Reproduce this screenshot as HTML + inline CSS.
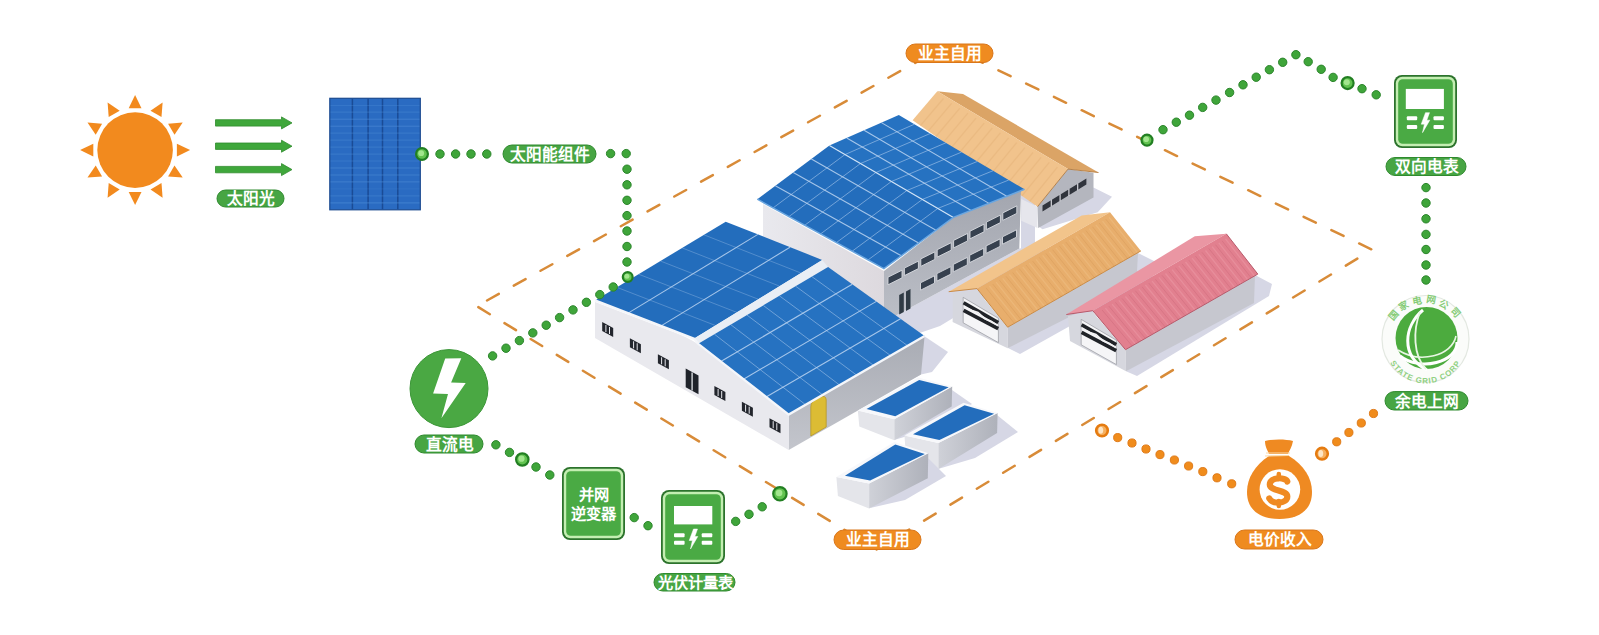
<!DOCTYPE html><html lang="zh-CN"><head><meta charset="utf-8"><style>html,body{margin:0;padding:0;background:#fff;}body{width:1599px;height:635px;overflow:hidden;font-family:"Liberation Sans",sans-serif;}svg{display:block}</style></head><body>
<svg width="1599" height="635" viewBox="0 0 1599 635" font-family="Liberation Sans, sans-serif">
<defs><linearGradient id="gB" x1="0" y1="0" x2="0" y2="1"><stop offset="0" stop-color="#a3a6af"/><stop offset="1" stop-color="#bcbfc7"/></linearGradient><linearGradient id="gL" x1="0" y1="0" x2="1" y2="0"><stop offset="0" stop-color="#e9e9ee"/><stop offset="1" stop-color="#ddd9de"/></linearGradient><linearGradient id="gA" x1="0" y1="0" x2="0" y2="1"><stop offset="0" stop-color="#a9acb4"/><stop offset="1" stop-color="#c3c5cc"/></linearGradient><linearGradient id="gR" x1="0" y1="0" x2="1" y2="0"><stop offset="0" stop-color="#cfd1d8"/><stop offset="1" stop-color="#aeb1ba"/></linearGradient></defs>
<rect width="1599" height="635" fill="#ffffff"/>
<circle cx="135.1" cy="150.1" r="37.8" fill="#f28a1e"/>
<polygon points="135.1,95.1 141.5,108.3 128.7,108.3" fill="#f28a1e" stroke="none" stroke-width="0" />
<polygon points="162.6,102.5 161.5,117.1 150.5,110.7" fill="#f28a1e" stroke="none" stroke-width="0" />
<polygon points="182.7,122.6 174.5,134.7 168.1,123.7" fill="#f28a1e" stroke="none" stroke-width="0" />
<polygon points="190.1,150.1 176.9,156.5 176.9,143.7" fill="#f28a1e" stroke="none" stroke-width="0" />
<polygon points="182.7,177.6 168.1,176.5 174.5,165.5" fill="#f28a1e" stroke="none" stroke-width="0" />
<polygon points="162.6,197.7 150.5,189.5 161.5,183.1" fill="#f28a1e" stroke="none" stroke-width="0" />
<polygon points="135.1,205.1 128.7,191.9 141.5,191.9" fill="#f28a1e" stroke="none" stroke-width="0" />
<polygon points="107.6,197.7 108.7,183.1 119.7,189.5" fill="#f28a1e" stroke="none" stroke-width="0" />
<polygon points="87.5,177.6 95.7,165.5 102.1,176.5" fill="#f28a1e" stroke="none" stroke-width="0" />
<polygon points="80.1,150.1 93.3,143.7 93.3,156.5" fill="#f28a1e" stroke="none" stroke-width="0" />
<polygon points="87.5,122.6 102.1,123.7 95.7,134.7" fill="#f28a1e" stroke="none" stroke-width="0" />
<polygon points="107.6,102.5 119.7,110.7 108.7,117.1" fill="#f28a1e" stroke="none" stroke-width="0" />
<polygon points="215.5,119.7 281.5,119.7 281.5,116.9 292,122.9 281.5,128.9 281.5,126.10000000000001 215.5,126.10000000000001" fill="#3fa73b" stroke="#2e8b2c" stroke-width="0.8" stroke-linejoin="round"/>
<polygon points="215.5,143.0 281.5,143.0 281.5,140.2 292,146.2 281.5,152.2 281.5,149.39999999999998 215.5,149.39999999999998" fill="#3fa73b" stroke="#2e8b2c" stroke-width="0.8" stroke-linejoin="round"/>
<polygon points="215.5,166.4 281.5,166.4 281.5,163.6 292,169.6 281.5,175.6 281.5,172.79999999999998 215.5,172.79999999999998" fill="#3fa73b" stroke="#2e8b2c" stroke-width="0.8" stroke-linejoin="round"/>
<rect x="217" y="190" width="67" height="17" rx="8.5" fill="#47a543" stroke="#2f8a2e" stroke-width="1"/>
<text x="251.3" y="204.2" font-size="15.7" text-anchor="middle" fill="#fff" font-weight="900">太阳光</text>
<rect x="329.8" y="98.3" width="90.5" height="111.5" fill="#2a6bc2" stroke="#1b4a90" stroke-width="1.2"/>
<line x1="352.4" y1="98.8" x2="352.4" y2="209.3" stroke="#1a4b95" stroke-width="1.5"/>
<line x1="368.1" y1="98.8" x2="368.1" y2="209.3" stroke="#1a4b95" stroke-width="1.5"/>
<line x1="382.5" y1="98.8" x2="382.5" y2="209.3" stroke="#1a4b95" stroke-width="1.5"/>
<line x1="397.8" y1="98.8" x2="397.8" y2="209.3" stroke="#1a4b95" stroke-width="1.5"/>
<line x1="330.5" y1="105.3" x2="419.5" y2="105.3" stroke="#4f8fd8" stroke-width="0.6" opacity="0.65"/>
<line x1="330.5" y1="112.2" x2="419.5" y2="112.2" stroke="#4f8fd8" stroke-width="1.2" opacity="0.35"/>
<line x1="330.5" y1="119.2" x2="419.5" y2="119.2" stroke="#4f8fd8" stroke-width="0.9" opacity="0.65"/>
<line x1="330.5" y1="126.2" x2="419.5" y2="126.2" stroke="#4f8fd8" stroke-width="0.9" opacity="0.65"/>
<line x1="330.5" y1="133.1" x2="419.5" y2="133.1" stroke="#4f8fd8" stroke-width="1.2" opacity="0.35"/>
<line x1="330.5" y1="140.1" x2="419.5" y2="140.1" stroke="#4f8fd8" stroke-width="1.2" opacity="0.35"/>
<line x1="330.5" y1="147.1" x2="419.5" y2="147.1" stroke="#4f8fd8" stroke-width="0.9" opacity="0.5"/>
<line x1="330.5" y1="154.1" x2="419.5" y2="154.1" stroke="#4f8fd8" stroke-width="1.2" opacity="0.35"/>
<line x1="330.5" y1="161.0" x2="419.5" y2="161.0" stroke="#4f8fd8" stroke-width="0.6" opacity="0.65"/>
<line x1="330.5" y1="168.0" x2="419.5" y2="168.0" stroke="#4f8fd8" stroke-width="0.9" opacity="0.65"/>
<line x1="330.5" y1="175.0" x2="419.5" y2="175.0" stroke="#4f8fd8" stroke-width="1.2" opacity="0.5"/>
<line x1="330.5" y1="181.9" x2="419.5" y2="181.9" stroke="#4f8fd8" stroke-width="0.9" opacity="0.65"/>
<line x1="330.5" y1="188.9" x2="419.5" y2="188.9" stroke="#4f8fd8" stroke-width="0.6" opacity="0.35"/>
<line x1="330.5" y1="195.9" x2="419.5" y2="195.9" stroke="#4f8fd8" stroke-width="1.2" opacity="0.35"/>
<line x1="330.5" y1="202.8" x2="419.5" y2="202.8" stroke="#4f8fd8" stroke-width="1.2" opacity="0.5"/>
<line x1="476.7" y1="306.2" x2="946.6" y2="45.4" stroke="#d88b38" stroke-width="2.5" stroke-dasharray="13.5 17.1" stroke-dashoffset="-11.8" stroke-linecap="round"/>
<line x1="946.6" y1="45.4" x2="1372.1" y2="249.7" stroke="#d88b38" stroke-width="2.5" stroke-dasharray="13.5 17.28" stroke-dashoffset="-26.7" stroke-linecap="round"/>
<line x1="476.7" y1="306.2" x2="876.6" y2="549.3" stroke="#d88b38" stroke-width="2.5" stroke-dasharray="13.5 17.1" stroke-dashoffset="-1.9" stroke-linecap="round"/>
<line x1="876.6" y1="549.3" x2="1372.1" y2="249.7" stroke="#d88b38" stroke-width="2.5" stroke-dasharray="13.5 17.3" stroke-dashoffset="-24.7" stroke-linecap="round"/>
<polygon points="1138.0,253.0 1156.0,262.0 1152.0,280.0 1020.0,354.0 1008.0,348.0" fill="#d6d7e5" stroke="none" stroke-width="0" />
<polygon points="1255.0,275.0 1272.0,284.0 1269.0,296.0 1137.0,376.0 1126.0,371.2" fill="#d6d7e5" stroke="none" stroke-width="0" />
<polygon points="924.0,336.0 948.0,352.0 932.0,372.0 921.0,374.5 900.0,386.0" fill="#d6d7e5" stroke="none" stroke-width="0" />
<polygon points="1021.0,192.0 1035.0,200.0 1035.0,250.0 1021.0,250.0" fill="#d6d7e5" stroke="none" stroke-width="0" />
<polygon points="1093.5,187.5 1112.0,196.7 1097.7,212.3 1042.5,229.3 1038.0,226.0" fill="#d6d7e5" stroke="none" stroke-width="0" />
<polygon points="937.3,91.3 963.0,94.0 1098.5,172.5 1068.0,169.1" fill="#dba466" stroke="none" stroke-width="0" />
<polygon points="912.6,120.3 937.3,91.3 1068.0,169.1 1037.5,206.7" fill="#f1c38c" stroke="none" stroke-width="0" />
<line x1="943.5" y1="98.5" x2="920.4" y2="125.7" stroke="#d39a5c" stroke-width="1.3" opacity="0.2"/>
<line x1="951.6" y1="103.4" x2="928.2" y2="131.1" stroke="#d39a5c" stroke-width="1.3" opacity="0.2"/>
<line x1="959.7" y1="108.3" x2="936.0" y2="136.5" stroke="#d39a5c" stroke-width="1.3" opacity="0.2"/>
<line x1="967.9" y1="113.2" x2="943.8" y2="141.9" stroke="#d39a5c" stroke-width="1.3" opacity="0.2"/>
<line x1="976.0" y1="118.1" x2="951.6" y2="147.3" stroke="#d39a5c" stroke-width="1.3" opacity="0.2"/>
<line x1="984.2" y1="123.1" x2="959.4" y2="152.7" stroke="#d39a5c" stroke-width="1.3" opacity="0.2"/>
<line x1="992.3" y1="128.0" x2="967.2" y2="158.1" stroke="#d39a5c" stroke-width="1.3" opacity="0.2"/>
<line x1="1000.4" y1="132.9" x2="975.0" y2="163.5" stroke="#d39a5c" stroke-width="1.3" opacity="0.2"/>
<line x1="1008.6" y1="137.8" x2="982.9" y2="168.9" stroke="#d39a5c" stroke-width="1.3" opacity="0.2"/>
<line x1="1016.7" y1="142.7" x2="990.7" y2="174.3" stroke="#d39a5c" stroke-width="1.3" opacity="0.2"/>
<line x1="1024.9" y1="147.6" x2="998.5" y2="179.7" stroke="#d39a5c" stroke-width="1.3" opacity="0.2"/>
<line x1="1033.0" y1="152.5" x2="1006.3" y2="185.1" stroke="#d39a5c" stroke-width="1.3" opacity="0.2"/>
<line x1="1041.1" y1="157.4" x2="1014.1" y2="190.5" stroke="#d39a5c" stroke-width="1.3" opacity="0.2"/>
<line x1="1049.3" y1="162.3" x2="1021.9" y2="195.9" stroke="#d39a5c" stroke-width="1.3" opacity="0.2"/>
<line x1="1057.4" y1="167.2" x2="1029.7" y2="201.3" stroke="#d39a5c" stroke-width="1.3" opacity="0.2"/>
<polygon points="1021.2,198.9 1037.5,206.7 1037.5,228.0 1021.2,220.8" fill="#e6e6ec" stroke="none" stroke-width="0" />
<polygon points="1037.5,206.7 1068.0,169.1 1093.5,172.7 1093.5,197.5 1038.2,228.0" fill="#b4b6be" stroke="none" stroke-width="0" />
<polygon points="1042.5,205.5 1086.4,178.6 1086.4,184.6 1042.5,211.5" fill="#30343c" stroke="none" stroke-width="0" />
<line x1="1051.3" y1="199.6" x2="1051.3" y2="206.6" stroke="#d7d8de" stroke-width="1.2"/>
<line x1="1060.1" y1="194.2" x2="1060.1" y2="201.2" stroke="#d7d8de" stroke-width="1.2"/>
<line x1="1068.9" y1="188.9" x2="1068.9" y2="195.9" stroke="#d7d8de" stroke-width="1.2"/>
<line x1="1077.7" y1="183.5" x2="1077.7" y2="190.5" stroke="#d7d8de" stroke-width="1.2"/>
<polyline points="1037.5,206.7 1068,169.1 1098.5,172.5" fill="none" stroke="#b27a40" stroke-width="0.9"/>
<polygon points="884.0,322.0 1019.3,248.5 1045.0,246.0 1045.0,262.0 940.0,326.0 905.0,338.0" fill="#d6d7e5" stroke="none" stroke-width="0" />
<polygon points="763.0,204.0 884.0,271.0 884.0,322.0 763.0,245.0" fill="url(#gL)" stroke="none" stroke-width="0" />
<polygon points="884.0,271.0 953.4,217.4 1021.0,190.5 1019.3,248.5 884.0,322.0" fill="url(#gB)" stroke="none" stroke-width="0" />
<polygon points="888.0,277.2 902.0,270.2 902.0,277.8 888.0,284.8" fill="#37414f" stroke="#d7d9df" stroke-width="0.9" />
<polygon points="904.4,268.1 918.4,261.1 918.4,268.6 904.4,275.6" fill="#37414f" stroke="#d7d9df" stroke-width="0.9" />
<polygon points="920.8,258.9 934.8,251.9 934.8,259.4 920.8,266.4" fill="#37414f" stroke="#d7d9df" stroke-width="0.9" />
<polygon points="937.2,249.7 951.2,242.7 951.2,250.2 937.2,257.1" fill="#37414f" stroke="#d7d9df" stroke-width="0.9" />
<polygon points="953.6,240.4 967.6,233.4 967.6,240.9 953.6,247.9" fill="#37414f" stroke="#d7d9df" stroke-width="0.9" />
<polygon points="970.0,231.2 984.0,224.2 984.0,231.8 970.0,238.8" fill="#37414f" stroke="#d7d9df" stroke-width="0.9" />
<polygon points="986.4,222.1 1000.4,215.1 1000.4,222.6 986.4,229.6" fill="#37414f" stroke="#d7d9df" stroke-width="0.9" />
<polygon points="1002.8,212.9 1016.8,205.9 1016.8,213.4 1002.8,220.4" fill="#37414f" stroke="#d7d9df" stroke-width="0.9" />
<polygon points="920.5,282.8 934.5,275.8 934.5,283.2 920.5,290.2" fill="#37414f" stroke="#d7d9df" stroke-width="0.9" />
<polygon points="936.9,273.6 950.9,266.6 950.9,274.1 936.9,281.1" fill="#37414f" stroke="#d7d9df" stroke-width="0.9" />
<polygon points="953.3,264.4 967.3,257.4 967.3,264.9 953.3,271.9" fill="#37414f" stroke="#d7d9df" stroke-width="0.9" />
<polygon points="969.7,255.2 983.7,248.2 983.7,255.6 969.7,262.6" fill="#37414f" stroke="#d7d9df" stroke-width="0.9" />
<polygon points="986.1,245.9 1000.1,238.9 1000.1,246.4 986.1,253.4" fill="#37414f" stroke="#d7d9df" stroke-width="0.9" />
<polygon points="1002.5,236.8 1016.5,229.8 1016.5,237.2 1002.5,244.2" fill="#37414f" stroke="#d7d9df" stroke-width="0.9" />
<polygon points="899.2,295.0 903.8,292.5 903.8,312.0 899.2,314.5" fill="#2f3a44" stroke="none" stroke-width="0" />
<polygon points="906.0,291.5 910.5,289.0 910.5,308.5 906.0,311.0" fill="#2f3a44" stroke="none" stroke-width="0" />
<polygon points="757.3,199.2 829.4,145.6 953.4,217.4 883.9,268.6" fill="#236dbc" stroke="none" stroke-width="0" />
<polygon points="829.4,145.6 898.8,114.9 1024.5,189.3 953.4,217.4" fill="#2672c1" stroke="none" stroke-width="0" />
<line x1="775.3" y1="185.8" x2="901.3" y2="255.8" stroke="#bcd5f2" stroke-width="1.1" opacity="0.85"/>
<line x1="793.3" y1="172.4" x2="918.6" y2="243.0" stroke="#bcd5f2" stroke-width="1.1" opacity="0.85"/>
<line x1="811.4" y1="159.0" x2="936.0" y2="230.2" stroke="#bcd5f2" stroke-width="1.1" opacity="0.85"/>
<line x1="773.1" y1="207.9" x2="844.9" y2="154.6" stroke="#bcd5f2" stroke-width="0.8800000000000001" opacity="0.6"/>
<line x1="788.9" y1="216.6" x2="860.4" y2="163.6" stroke="#bcd5f2" stroke-width="0.8800000000000001" opacity="0.6"/>
<line x1="804.8" y1="225.2" x2="875.9" y2="172.5" stroke="#bcd5f2" stroke-width="0.8800000000000001" opacity="0.6"/>
<line x1="820.6" y1="233.9" x2="891.4" y2="181.5" stroke="#bcd5f2" stroke-width="0.8800000000000001" opacity="0.6"/>
<line x1="836.4" y1="242.6" x2="906.9" y2="190.5" stroke="#bcd5f2" stroke-width="0.8800000000000001" opacity="0.6"/>
<line x1="852.2" y1="251.2" x2="922.4" y2="199.4" stroke="#bcd5f2" stroke-width="0.8800000000000001" opacity="0.6"/>
<line x1="868.1" y1="259.9" x2="937.9" y2="208.4" stroke="#bcd5f2" stroke-width="0.8800000000000001" opacity="0.6"/>
<line x1="846.8" y1="137.9" x2="971.2" y2="210.4" stroke="#bcd5f2" stroke-width="1.1" opacity="0.85"/>
<line x1="864.1" y1="130.2" x2="989.0" y2="203.4" stroke="#bcd5f2" stroke-width="1.1" opacity="0.85"/>
<line x1="881.4" y1="122.6" x2="1006.7" y2="196.3" stroke="#bcd5f2" stroke-width="1.1" opacity="0.85"/>
<line x1="844.9" y1="154.6" x2="914.5" y2="124.2" stroke="#bcd5f2" stroke-width="0.8800000000000001" opacity="0.6"/>
<line x1="860.4" y1="163.6" x2="930.2" y2="133.5" stroke="#bcd5f2" stroke-width="0.8800000000000001" opacity="0.6"/>
<line x1="875.9" y1="172.5" x2="945.9" y2="142.8" stroke="#bcd5f2" stroke-width="0.8800000000000001" opacity="0.6"/>
<line x1="891.4" y1="181.5" x2="961.6" y2="152.1" stroke="#bcd5f2" stroke-width="0.8800000000000001" opacity="0.6"/>
<line x1="906.9" y1="190.5" x2="977.4" y2="161.4" stroke="#bcd5f2" stroke-width="0.8800000000000001" opacity="0.6"/>
<line x1="922.4" y1="199.4" x2="993.1" y2="170.7" stroke="#bcd5f2" stroke-width="0.8800000000000001" opacity="0.6"/>
<line x1="937.9" y1="208.4" x2="1008.8" y2="180.0" stroke="#bcd5f2" stroke-width="0.8800000000000001" opacity="0.6"/>
<line x1="829.4" y1="145.6" x2="953.4" y2="217.4" stroke="#cfe2f6" stroke-width="1.2"/>
<polyline points="757.3,199.2 883.9,268.6 953.4,217.4 1024.5,189.3" fill="none" stroke="#6aa6e0" stroke-width="1.5"/>
<polygon points="788.7,414.6 924.6,335.9 921.0,374.5 788.7,450.0" fill="url(#gA)" stroke="none" stroke-width="0" />
<path d="M595,302 L676,333 Q694,340 706,350 L788.7,414.6 L788.7,450 L595,338 Z" fill="#e9e9ee"/>
<path d="M810.8,407 Q810.8,401 818,398 Q826.2,394 826.2,400 L826.2,427 L810.8,436 Z" fill="#dcbc34" stroke="#b8982a" stroke-width="0.8"/>
<polygon points="595.0,300.4 725.7,221.7 822.2,259.9 694.2,338.6" fill="#236dbc" stroke="none" stroke-width="0" />
<polygon points="694.2,338.6 822.2,259.9 828.1,267.0 698.2,343.8" fill="#e9eef5" stroke="none" stroke-width="0" />
<polygon points="698.2,343.8 828.1,267.0 924.6,335.9 788.7,414.6" fill="#2672c1" stroke="none" stroke-width="0" />
<line x1="628.1" y1="313.1" x2="757.9" y2="234.4" stroke="#bcd5f2" stroke-width="1.1" opacity="0.85"/>
<line x1="661.1" y1="325.9" x2="790.0" y2="247.2" stroke="#bcd5f2" stroke-width="1.1" opacity="0.85"/>
<line x1="616.8" y1="287.3" x2="715.5" y2="325.5" stroke="#bcd5f2" stroke-width="0.8800000000000001" opacity="0.35"/>
<line x1="638.6" y1="274.2" x2="736.9" y2="312.4" stroke="#bcd5f2" stroke-width="0.8800000000000001" opacity="0.35"/>
<line x1="660.4" y1="261.0" x2="758.2" y2="299.2" stroke="#bcd5f2" stroke-width="0.8800000000000001" opacity="0.35"/>
<line x1="682.1" y1="247.9" x2="779.5" y2="286.1" stroke="#bcd5f2" stroke-width="0.8800000000000001" opacity="0.35"/>
<line x1="703.9" y1="234.8" x2="800.9" y2="273.0" stroke="#bcd5f2" stroke-width="0.8800000000000001" opacity="0.35"/>
<line x1="720.8" y1="361.5" x2="852.2" y2="284.2" stroke="#bcd5f2" stroke-width="1.1" opacity="0.85"/>
<line x1="743.5" y1="379.2" x2="876.4" y2="301.4" stroke="#bcd5f2" stroke-width="1.1" opacity="0.85"/>
<line x1="766.1" y1="396.9" x2="900.5" y2="318.7" stroke="#bcd5f2" stroke-width="1.1" opacity="0.85"/>
<line x1="714.4" y1="334.2" x2="805.7" y2="404.8" stroke="#bcd5f2" stroke-width="0.8800000000000001" opacity="0.55"/>
<line x1="730.7" y1="324.6" x2="822.7" y2="394.9" stroke="#bcd5f2" stroke-width="0.8800000000000001" opacity="0.55"/>
<line x1="746.9" y1="315.0" x2="839.7" y2="385.1" stroke="#bcd5f2" stroke-width="0.8800000000000001" opacity="0.55"/>
<line x1="763.2" y1="305.4" x2="856.7" y2="375.2" stroke="#bcd5f2" stroke-width="0.8800000000000001" opacity="0.55"/>
<line x1="779.4" y1="295.8" x2="873.6" y2="365.4" stroke="#bcd5f2" stroke-width="0.8800000000000001" opacity="0.55"/>
<line x1="795.6" y1="286.2" x2="890.6" y2="355.6" stroke="#bcd5f2" stroke-width="0.8800000000000001" opacity="0.55"/>
<line x1="811.9" y1="276.6" x2="907.6" y2="345.7" stroke="#bcd5f2" stroke-width="0.8800000000000001" opacity="0.55"/>
<polyline points="595,300.4 694.2,338.6 698.2,343.8 788.7,414.6 924.6,335.9" fill="none" stroke="#f4f6fa" stroke-width="2.3"/>
<polygon points="602.2,322.0 613.2,328.0 613.2,337.0 602.2,331.0" fill="#23262d" stroke="none" stroke-width="0" />
<line x1="605.9" y1="325.0" x2="605.9" y2="332.0" stroke="#e8e9ee" stroke-width="1"/>
<line x1="609.5" y1="327.0" x2="609.5" y2="334.0" stroke="#e8e9ee" stroke-width="1"/>
<polygon points="629.9,338.3 640.9,344.3 640.9,353.3 629.9,347.3" fill="#23262d" stroke="none" stroke-width="0" />
<line x1="633.6" y1="341.3" x2="633.6" y2="348.3" stroke="#e8e9ee" stroke-width="1"/>
<line x1="637.2" y1="343.3" x2="637.2" y2="350.3" stroke="#e8e9ee" stroke-width="1"/>
<polygon points="657.9,354.3 668.9,360.3 668.9,369.3 657.9,363.3" fill="#23262d" stroke="none" stroke-width="0" />
<line x1="661.6" y1="357.3" x2="661.6" y2="364.3" stroke="#e8e9ee" stroke-width="1"/>
<line x1="665.2" y1="359.3" x2="665.2" y2="366.3" stroke="#e8e9ee" stroke-width="1"/>
<polygon points="714.4,386.0 725.4,392.0 725.4,401.0 714.4,395.0" fill="#23262d" stroke="none" stroke-width="0" />
<line x1="718.1" y1="389.0" x2="718.1" y2="396.0" stroke="#e8e9ee" stroke-width="1"/>
<line x1="721.7" y1="391.0" x2="721.7" y2="398.0" stroke="#e8e9ee" stroke-width="1"/>
<polygon points="741.9,401.7 752.9,407.7 752.9,416.7 741.9,410.7" fill="#23262d" stroke="none" stroke-width="0" />
<line x1="745.6" y1="404.7" x2="745.6" y2="411.7" stroke="#e8e9ee" stroke-width="1"/>
<line x1="749.2" y1="406.7" x2="749.2" y2="413.7" stroke="#e8e9ee" stroke-width="1"/>
<polygon points="769.5,418.2 780.5,424.2 780.5,433.2 769.5,427.2" fill="#23262d" stroke="none" stroke-width="0" />
<line x1="773.2" y1="421.2" x2="773.2" y2="428.2" stroke="#e8e9ee" stroke-width="1"/>
<line x1="776.8" y1="423.2" x2="776.8" y2="430.2" stroke="#e8e9ee" stroke-width="1"/>
<polygon points="685.7,368.5 698.5,375.5 698.5,394.3 685.7,387.3" fill="#1f232a" stroke="none" stroke-width="0" />
<line x1="692.1" y1="372.5" x2="692.1" y2="390.5" stroke="#d8dbe0" stroke-width="1.4"/>
<polygon points="952.6,293.3 977.0,290.0 1007.7,327.2 1007.7,348.2 952.6,322.0" fill="#d6d7de" stroke="none" stroke-width="0" />
<polygon points="1007.7,327.2 1138.0,252.5 1136.4,283.0 1007.7,348.2" fill="#c6c7cf" stroke="none" stroke-width="0" />
<polygon points="963.2,297.4 998.4,318.3 998.4,342.6 963.2,322.8" fill="#f5f5f7" stroke="#8a8c92" stroke-width="0.6" />
<line x1="963.6" y1="302.8" x2="998.2" y2="322.6" stroke="#202328" stroke-width="3.6"/>
<line x1="963.6" y1="310.4" x2="998.2" y2="328.6" stroke="#202328" stroke-width="3.6"/>
<polyline points="963.6,306.6 972,310.5 978,312.5 985,318.8 991,321.3 998.2,325.6" fill="none" stroke="#f2f2f4" stroke-width="1.6"/>
<polygon points="948.7,291.7 977.0,288.6 1110.0,212.3 1081.7,215.4" fill="#f2c48b" stroke="none" stroke-width="0" />
<polygon points="977.0,288.6 1007.7,327.2 1140.9,250.9 1110.0,212.3" fill="#e8ae6c" stroke="none" stroke-width="0" />
<line x1="986.1" y1="287.9" x2="1014.4" y2="323.4" stroke="#c98a4a" stroke-width="1.0" opacity="0.25"/>
<line x1="989.4" y1="286.0" x2="1017.7" y2="321.5" stroke="#f5cc96" stroke-width="1.3" opacity="0.3"/>
<line x1="992.8" y1="284.1" x2="1021.0" y2="319.6" stroke="#c98a4a" stroke-width="1.0" opacity="0.25"/>
<line x1="996.1" y1="282.2" x2="1024.4" y2="317.7" stroke="#f5cc96" stroke-width="1.3" opacity="0.3"/>
<line x1="999.4" y1="280.2" x2="1027.7" y2="315.8" stroke="#c98a4a" stroke-width="1.0" opacity="0.25"/>
<line x1="1002.7" y1="278.3" x2="1031.0" y2="313.8" stroke="#f5cc96" stroke-width="1.3" opacity="0.3"/>
<line x1="1006.1" y1="276.4" x2="1034.3" y2="311.9" stroke="#c98a4a" stroke-width="1.0" opacity="0.25"/>
<line x1="1009.4" y1="274.5" x2="1037.7" y2="310.0" stroke="#f5cc96" stroke-width="1.3" opacity="0.3"/>
<line x1="1012.7" y1="272.6" x2="1041.0" y2="308.1" stroke="#c98a4a" stroke-width="1.0" opacity="0.25"/>
<line x1="1016.0" y1="270.7" x2="1044.3" y2="306.2" stroke="#f5cc96" stroke-width="1.3" opacity="0.3"/>
<line x1="1019.4" y1="268.8" x2="1047.7" y2="304.3" stroke="#c98a4a" stroke-width="1.0" opacity="0.25"/>
<line x1="1022.7" y1="266.9" x2="1051.0" y2="302.4" stroke="#f5cc96" stroke-width="1.3" opacity="0.3"/>
<line x1="1026.0" y1="265.0" x2="1054.3" y2="300.5" stroke="#c98a4a" stroke-width="1.0" opacity="0.25"/>
<line x1="1029.3" y1="263.1" x2="1057.7" y2="298.6" stroke="#f5cc96" stroke-width="1.3" opacity="0.3"/>
<line x1="1032.7" y1="261.2" x2="1061.0" y2="296.7" stroke="#c98a4a" stroke-width="1.0" opacity="0.25"/>
<line x1="1036.0" y1="259.3" x2="1064.3" y2="294.8" stroke="#f5cc96" stroke-width="1.3" opacity="0.3"/>
<line x1="1039.3" y1="257.4" x2="1067.6" y2="292.9" stroke="#c98a4a" stroke-width="1.0" opacity="0.25"/>
<line x1="1042.6" y1="255.4" x2="1071.0" y2="291.0" stroke="#f5cc96" stroke-width="1.3" opacity="0.3"/>
<line x1="1046.0" y1="253.5" x2="1074.3" y2="289.1" stroke="#c98a4a" stroke-width="1.0" opacity="0.25"/>
<line x1="1049.3" y1="251.6" x2="1077.6" y2="287.1" stroke="#f5cc96" stroke-width="1.3" opacity="0.3"/>
<line x1="1052.6" y1="249.7" x2="1081.0" y2="285.2" stroke="#c98a4a" stroke-width="1.0" opacity="0.25"/>
<line x1="1055.9" y1="247.8" x2="1084.3" y2="283.3" stroke="#f5cc96" stroke-width="1.3" opacity="0.3"/>
<line x1="1059.3" y1="245.9" x2="1087.6" y2="281.4" stroke="#c98a4a" stroke-width="1.0" opacity="0.25"/>
<line x1="1062.6" y1="244.0" x2="1091.0" y2="279.5" stroke="#f5cc96" stroke-width="1.3" opacity="0.3"/>
<line x1="1065.9" y1="242.1" x2="1094.3" y2="277.6" stroke="#c98a4a" stroke-width="1.0" opacity="0.25"/>
<line x1="1069.2" y1="240.2" x2="1097.6" y2="275.7" stroke="#f5cc96" stroke-width="1.3" opacity="0.3"/>
<line x1="1072.6" y1="238.3" x2="1100.9" y2="273.8" stroke="#c98a4a" stroke-width="1.0" opacity="0.25"/>
<line x1="1075.9" y1="236.4" x2="1104.3" y2="271.9" stroke="#f5cc96" stroke-width="1.3" opacity="0.3"/>
<line x1="1079.2" y1="234.5" x2="1107.6" y2="270.0" stroke="#c98a4a" stroke-width="1.0" opacity="0.25"/>
<line x1="1082.5" y1="232.6" x2="1110.9" y2="268.1" stroke="#f5cc96" stroke-width="1.3" opacity="0.3"/>
<line x1="1085.9" y1="230.6" x2="1114.3" y2="266.2" stroke="#c98a4a" stroke-width="1.0" opacity="0.25"/>
<line x1="1089.2" y1="228.7" x2="1117.6" y2="264.3" stroke="#f5cc96" stroke-width="1.3" opacity="0.3"/>
<line x1="1092.5" y1="226.8" x2="1120.9" y2="262.3" stroke="#c98a4a" stroke-width="1.0" opacity="0.25"/>
<line x1="1095.8" y1="224.9" x2="1124.2" y2="260.4" stroke="#f5cc96" stroke-width="1.3" opacity="0.3"/>
<line x1="1099.2" y1="223.0" x2="1127.6" y2="258.5" stroke="#c98a4a" stroke-width="1.0" opacity="0.25"/>
<line x1="1102.5" y1="221.1" x2="1130.9" y2="256.6" stroke="#f5cc96" stroke-width="1.3" opacity="0.3"/>
<line x1="1105.8" y1="219.2" x2="1134.2" y2="254.7" stroke="#c98a4a" stroke-width="1.0" opacity="0.25"/>
<line x1="1109.1" y1="217.3" x2="1137.6" y2="252.8" stroke="#f5cc96" stroke-width="1.3" opacity="0.3"/>
<polyline points="948.7,291.7 977,288.6 1007.7,327.2 1140.9,250.9" fill="none" stroke="#c98b47" stroke-width="1"/>
<polygon points="1068.0,316.0 1092.8,312.0 1125.5,349.7 1126.0,371.2 1070.0,341.0" fill="#d6d7de" stroke="none" stroke-width="0" />
<polygon points="1125.5,349.7 1255.0,275.0 1254.0,303.0 1126.0,371.2" fill="#c6c7cf" stroke="none" stroke-width="0" />
<polygon points="1081.2,319.4 1116.4,340.3 1116.4,364.6 1081.2,344.8" fill="#f5f5f7" stroke="#8a8c92" stroke-width="0.6" />
<line x1="1081.6" y1="324.8" x2="1116.2" y2="344.6" stroke="#202328" stroke-width="3.6"/>
<line x1="1081.6" y1="332.4" x2="1116.2" y2="350.6" stroke="#202328" stroke-width="3.6"/>
<polyline points="1081.6,328.6 1090,332.5 1096,334.5 1103,340.8 1109,343.3 1116.2,347.6" fill="none" stroke="#f2f2f4" stroke-width="1.6"/>
<polygon points="1066.3,314.5 1092.8,310.7 1226.3,233.8 1194.8,236.3" fill="#ea96a3" stroke="none" stroke-width="0" />
<polygon points="1092.8,310.7 1125.5,349.7 1257.8,274.1 1226.3,233.8" fill="#e2808f" stroke="none" stroke-width="0" />
<line x1="1102.1" y1="310.0" x2="1132.1" y2="345.9" stroke="#c25e70" stroke-width="1.0" opacity="0.3"/>
<line x1="1105.4" y1="308.1" x2="1135.4" y2="344.0" stroke="#f2a7b2" stroke-width="1.3" opacity="0.36"/>
<line x1="1108.8" y1="306.1" x2="1138.7" y2="342.1" stroke="#c25e70" stroke-width="1.0" opacity="0.3"/>
<line x1="1112.1" y1="304.2" x2="1142.0" y2="340.2" stroke="#f2a7b2" stroke-width="1.3" opacity="0.36"/>
<line x1="1115.4" y1="302.3" x2="1145.3" y2="338.4" stroke="#c25e70" stroke-width="1.0" opacity="0.3"/>
<line x1="1118.8" y1="300.4" x2="1148.7" y2="336.5" stroke="#f2a7b2" stroke-width="1.3" opacity="0.36"/>
<line x1="1122.1" y1="298.5" x2="1152.0" y2="334.6" stroke="#c25e70" stroke-width="1.0" opacity="0.3"/>
<line x1="1125.4" y1="296.5" x2="1155.3" y2="332.7" stroke="#f2a7b2" stroke-width="1.3" opacity="0.36"/>
<line x1="1128.8" y1="294.6" x2="1158.6" y2="330.8" stroke="#c25e70" stroke-width="1.0" opacity="0.3"/>
<line x1="1132.1" y1="292.7" x2="1161.9" y2="328.9" stroke="#f2a7b2" stroke-width="1.3" opacity="0.36"/>
<line x1="1135.4" y1="290.8" x2="1165.2" y2="327.0" stroke="#c25e70" stroke-width="1.0" opacity="0.3"/>
<line x1="1138.8" y1="288.9" x2="1168.5" y2="325.1" stroke="#f2a7b2" stroke-width="1.3" opacity="0.36"/>
<line x1="1142.1" y1="286.9" x2="1171.8" y2="323.2" stroke="#c25e70" stroke-width="1.0" opacity="0.3"/>
<line x1="1145.4" y1="285.0" x2="1175.1" y2="321.4" stroke="#f2a7b2" stroke-width="1.3" opacity="0.36"/>
<line x1="1148.8" y1="283.1" x2="1178.4" y2="319.5" stroke="#c25e70" stroke-width="1.0" opacity="0.3"/>
<line x1="1152.1" y1="281.2" x2="1181.7" y2="317.6" stroke="#f2a7b2" stroke-width="1.3" opacity="0.36"/>
<line x1="1155.4" y1="279.3" x2="1185.0" y2="315.7" stroke="#c25e70" stroke-width="1.0" opacity="0.3"/>
<line x1="1158.8" y1="277.3" x2="1188.3" y2="313.8" stroke="#f2a7b2" stroke-width="1.3" opacity="0.36"/>
<line x1="1162.1" y1="275.4" x2="1191.7" y2="311.9" stroke="#c25e70" stroke-width="1.0" opacity="0.3"/>
<line x1="1165.5" y1="273.5" x2="1195.0" y2="310.0" stroke="#f2a7b2" stroke-width="1.3" opacity="0.36"/>
<line x1="1168.8" y1="271.6" x2="1198.3" y2="308.1" stroke="#c25e70" stroke-width="1.0" opacity="0.3"/>
<line x1="1172.1" y1="269.7" x2="1201.6" y2="306.2" stroke="#f2a7b2" stroke-width="1.3" opacity="0.36"/>
<line x1="1175.5" y1="267.7" x2="1204.9" y2="304.3" stroke="#c25e70" stroke-width="1.0" opacity="0.3"/>
<line x1="1178.8" y1="265.8" x2="1208.2" y2="302.4" stroke="#f2a7b2" stroke-width="1.3" opacity="0.36"/>
<line x1="1182.1" y1="263.9" x2="1211.5" y2="300.6" stroke="#c25e70" stroke-width="1.0" opacity="0.3"/>
<line x1="1185.5" y1="262.0" x2="1214.8" y2="298.7" stroke="#f2a7b2" stroke-width="1.3" opacity="0.36"/>
<line x1="1188.8" y1="260.1" x2="1218.1" y2="296.8" stroke="#c25e70" stroke-width="1.0" opacity="0.3"/>
<line x1="1192.1" y1="258.1" x2="1221.4" y2="294.9" stroke="#f2a7b2" stroke-width="1.3" opacity="0.36"/>
<line x1="1195.5" y1="256.2" x2="1224.7" y2="293.0" stroke="#c25e70" stroke-width="1.0" opacity="0.3"/>
<line x1="1198.8" y1="254.3" x2="1228.0" y2="291.1" stroke="#f2a7b2" stroke-width="1.3" opacity="0.36"/>
<line x1="1202.1" y1="252.4" x2="1231.3" y2="289.2" stroke="#c25e70" stroke-width="1.0" opacity="0.3"/>
<line x1="1205.5" y1="250.5" x2="1234.6" y2="287.3" stroke="#f2a7b2" stroke-width="1.3" opacity="0.36"/>
<line x1="1208.8" y1="248.5" x2="1238.0" y2="285.4" stroke="#c25e70" stroke-width="1.0" opacity="0.3"/>
<line x1="1212.1" y1="246.6" x2="1241.3" y2="283.6" stroke="#f2a7b2" stroke-width="1.3" opacity="0.36"/>
<line x1="1215.5" y1="244.7" x2="1244.6" y2="281.7" stroke="#c25e70" stroke-width="1.0" opacity="0.3"/>
<line x1="1218.8" y1="242.8" x2="1247.9" y2="279.8" stroke="#f2a7b2" stroke-width="1.3" opacity="0.36"/>
<line x1="1222.1" y1="240.9" x2="1251.2" y2="277.9" stroke="#c25e70" stroke-width="1.0" opacity="0.3"/>
<line x1="1225.5" y1="238.9" x2="1254.5" y2="276.0" stroke="#f2a7b2" stroke-width="1.3" opacity="0.36"/>
<polyline points="1066.3,314.5 1092.8,310.7 1125.5,349.7 1257.8,274.1 1226.3,233.8" fill="none" stroke="#b75a6b" stroke-width="1"/>
<polygon points="952.0,390.0 972.0,404.0 935.0,428.0 894.0,440.0" fill="#d6d7e5" stroke="none" stroke-width="0" />
<polygon points="857.8,410.4 894.3,419.2 894.3,440.2 859.3,426.4" fill="#e4e5ea" stroke="none" stroke-width="0" />
<polygon points="894.3,419.2 952.2,386.4 951.7,406.4 894.3,440.2" fill="url(#gR)" stroke="none" stroke-width="0" />
<polygon points="857.8,410.4 918.2,377.6 952.2,386.4 894.3,419.2" fill="#f7f8fb" stroke="none" stroke-width="0" />
<polygon points="866.5,409.0 919.2,380.1 948.7,387.2 895.3,416.2" fill="#236dbc" stroke="none" stroke-width="0" />
<polygon points="997.0,415.0 1018.0,432.0 975.0,458.0 938.0,469.0" fill="#d6d7e5" stroke="none" stroke-width="0" />
<polygon points="904.4,435.6 938.4,443.1 938.4,469.1 905.9,454.6" fill="#e4e5ea" stroke="none" stroke-width="0" />
<polygon points="938.4,443.1 997.6,412.9 997.1,432.9 938.4,469.1" fill="url(#gR)" stroke="none" stroke-width="0" />
<polygon points="904.4,435.6 963.6,402.8 997.6,412.9 938.4,443.1" fill="#f7f8fb" stroke="none" stroke-width="0" />
<polygon points="913.0,434.2 964.6,405.3 994.1,413.7 939.4,440.1" fill="#236dbc" stroke="none" stroke-width="0" />
<polygon points="928.0,458.0 946.0,476.0 905.0,500.0 870.0,508.0" fill="#d6d7e5" stroke="none" stroke-width="0" />
<polygon points="836.4,477.1 869.1,483.4 869.1,508.4 837.9,496.1" fill="#e4e5ea" stroke="none" stroke-width="0" />
<polygon points="869.1,483.4 928.3,453.2 927.8,478.2 869.1,508.4" fill="url(#gR)" stroke="none" stroke-width="0" />
<polygon points="836.4,477.1 894.3,441.9 928.3,453.2 869.1,483.4" fill="#f7f8fb" stroke="none" stroke-width="0" />
<polygon points="844.9,475.7 895.3,444.4 924.8,454.0 870.1,480.4" fill="#236dbc" stroke="none" stroke-width="0" />
<circle cx="422.0" cy="154.0" r="5.9" fill="#62c350" stroke="#227f22" stroke-width="2.2"/>
<circle cx="421.2" cy="153.2" r="2.9" fill="#a2e68e"/>
<circle cx="440.0" cy="154.0" r="4.2" fill="#3fa53a" stroke="#2b852b" stroke-width="1"/>
<circle cx="455.6" cy="154.0" r="4.2" fill="#3fa53a" stroke="#2b852b" stroke-width="1"/>
<circle cx="471.0" cy="154.0" r="4.2" fill="#3fa53a" stroke="#2b852b" stroke-width="1"/>
<circle cx="486.8" cy="154.0" r="4.2" fill="#3fa53a" stroke="#2b852b" stroke-width="1"/>
<rect x="503" y="145" width="93" height="18" rx="9.0" fill="#47a543" stroke="#2f8a2e" stroke-width="1"/>
<text x="550.3" y="159.7" font-size="15.7" text-anchor="middle" fill="#fff" font-weight="900">太阳能组件</text>
<circle cx="610.6" cy="153.6" r="4.2" fill="#3fa53a" stroke="#2b852b" stroke-width="1"/>
<circle cx="626.2" cy="153.6" r="4.2" fill="#3fa53a" stroke="#2b852b" stroke-width="1"/>
<circle cx="627.0" cy="169.2" r="4.2" fill="#3fa53a" stroke="#2b852b" stroke-width="1"/>
<circle cx="627.0" cy="184.8" r="4.2" fill="#3fa53a" stroke="#2b852b" stroke-width="1"/>
<circle cx="627.0" cy="200.3" r="4.2" fill="#3fa53a" stroke="#2b852b" stroke-width="1"/>
<circle cx="627.0" cy="215.6" r="4.2" fill="#3fa53a" stroke="#2b852b" stroke-width="1"/>
<circle cx="627.0" cy="231.0" r="4.2" fill="#3fa53a" stroke="#2b852b" stroke-width="1"/>
<circle cx="627.0" cy="246.5" r="4.2" fill="#3fa53a" stroke="#2b852b" stroke-width="1"/>
<circle cx="627.0" cy="262.0" r="4.2" fill="#3fa53a" stroke="#2b852b" stroke-width="1"/>
<circle cx="627.7" cy="277.0" r="4.9" fill="#62c350" stroke="#227f22" stroke-width="2.2"/>
<circle cx="626.9" cy="276.2" r="2.5" fill="#a2e68e"/>
<circle cx="613.2" cy="287.0" r="4.2" fill="#3fa53a" stroke="#2b852b" stroke-width="1"/>
<circle cx="599.8" cy="294.6" r="4.2" fill="#3fa53a" stroke="#2b852b" stroke-width="1"/>
<circle cx="586.4" cy="302.3" r="4.2" fill="#3fa53a" stroke="#2b852b" stroke-width="1"/>
<circle cx="573.0" cy="309.9" r="4.2" fill="#3fa53a" stroke="#2b852b" stroke-width="1"/>
<circle cx="559.6" cy="317.6" r="4.2" fill="#3fa53a" stroke="#2b852b" stroke-width="1"/>
<circle cx="546.2" cy="325.2" r="4.2" fill="#3fa53a" stroke="#2b852b" stroke-width="1"/>
<circle cx="532.8" cy="332.9" r="4.2" fill="#3fa53a" stroke="#2b852b" stroke-width="1"/>
<circle cx="519.4" cy="340.6" r="4.2" fill="#3fa53a" stroke="#2b852b" stroke-width="1"/>
<circle cx="506.0" cy="348.2" r="4.2" fill="#3fa53a" stroke="#2b852b" stroke-width="1"/>
<circle cx="492.6" cy="355.9" r="4.2" fill="#3fa53a" stroke="#2b852b" stroke-width="1"/>
<circle cx="449" cy="388.6" r="39" fill="#4aa843" stroke="#3b9637" stroke-width="1"/>
<polygon points="445.2,358.6 461.3,358.2 451.1,382.5 465.7,382.9 441.4,418.2 448,393.9 433.1,393.5" fill="#fff"/>
<rect x="415" y="435" width="68" height="18" rx="9.0" fill="#47a543" stroke="#2f8a2e" stroke-width="1"/>
<text x="449.8" y="449.7" font-size="15.7" text-anchor="middle" fill="#fff" font-weight="900">直流电</text>
<circle cx="495.9" cy="444.8" r="4.2" fill="#3fa53a" stroke="#2b852b" stroke-width="1"/>
<circle cx="509.5" cy="452.4" r="4.2" fill="#3fa53a" stroke="#2b852b" stroke-width="1"/>
<circle cx="522.3" cy="459.5" r="6.2" fill="#62c350" stroke="#227f22" stroke-width="2.2"/>
<circle cx="521.5" cy="458.7" r="3.1" fill="#a2e68e"/>
<circle cx="536.0" cy="467.0" r="4.2" fill="#3fa53a" stroke="#2b852b" stroke-width="1"/>
<circle cx="549.8" cy="475.0" r="4.2" fill="#3fa53a" stroke="#2b852b" stroke-width="1"/>
<rect x="562" y="467" width="63" height="73" rx="8" fill="#2c732c"/>
<rect x="563.8" y="468.8" width="59.4" height="69.4" rx="6.5" fill="#c4eeb2"/>
<rect x="566.2" y="471.2" width="54.6" height="64.6" rx="4.5" fill="#4aaa44"/>
<text x="593.5" y="499.5" font-size="15.2" text-anchor="middle" fill="#fff" font-weight="900">并网</text>
<text x="593.5" y="518.5" font-size="15.2" text-anchor="middle" fill="#fff" font-weight="900">逆变器</text>
<circle cx="634.2" cy="517.6" r="4.2" fill="#3fa53a" stroke="#2b852b" stroke-width="1"/>
<circle cx="648.0" cy="525.7" r="4.2" fill="#3fa53a" stroke="#2b852b" stroke-width="1"/>
<rect x="661" y="490" width="64" height="74" rx="8" fill="#2c732c"/>
<rect x="662.8" y="491.8" width="60.4" height="70.4" rx="6.5" fill="#c4eeb2"/>
<rect x="665.2" y="494.2" width="55.6" height="65.6" rx="4.5" fill="#4aaa44"/>
<rect x="674" y="506" width="38.299999999999955" height="18.399999999999977" fill="#fff"/>
<rect x="674" y="533.2" width="10.600000000000023" height="4" rx="1" fill="#fff"/>
<rect x="701.7" y="533.2" width="10.599999999999909" height="4" rx="1" fill="#fff"/>
<rect x="674" y="540.8" width="10.600000000000023" height="4" rx="1" fill="#fff"/>
<rect x="701.7" y="540.8" width="10.599999999999909" height="4" rx="1" fill="#fff"/>
<polygon points="693.5,529.0 697.5,529.0 694.8,536.5 697.8,536.5 690.5,549.0 692.4,540.5 689.2,540.5" fill="#fff" stroke="#fff" stroke-width="0.5" stroke-linejoin="round"/>
<rect x="654" y="573.5" width="81" height="17.5" rx="8.75" fill="#47a543" stroke="#2f8a2e" stroke-width="1"/>
<text x="695.3" y="587.7" font-size="15.2" text-anchor="middle" fill="#fff" font-weight="900">光伏计量表</text>
<circle cx="735.7" cy="521.4" r="4.2" fill="#3fa53a" stroke="#2b852b" stroke-width="1"/>
<circle cx="749.0" cy="514.3" r="4.2" fill="#3fa53a" stroke="#2b852b" stroke-width="1"/>
<circle cx="762.2" cy="506.8" r="4.2" fill="#3fa53a" stroke="#2b852b" stroke-width="1"/>
<circle cx="779.9" cy="493.8" r="6.7" fill="#62c350" stroke="#227f22" stroke-width="2.2"/>
<circle cx="779.1" cy="493.0" r="3.3" fill="#a2e68e"/>
<circle cx="1147.0" cy="140.1" r="5.5" fill="#62c350" stroke="#227f22" stroke-width="2.2"/>
<circle cx="1146.2" cy="139.3" r="2.8" fill="#a2e68e"/>
<circle cx="1163.0" cy="129.7" r="4.2" fill="#3fa53a" stroke="#2b852b" stroke-width="1"/>
<circle cx="1176.3" cy="122.2" r="4.2" fill="#3fa53a" stroke="#2b852b" stroke-width="1"/>
<circle cx="1189.5" cy="115.2" r="4.2" fill="#3fa53a" stroke="#2b852b" stroke-width="1"/>
<circle cx="1202.7" cy="107.4" r="4.2" fill="#3fa53a" stroke="#2b852b" stroke-width="1"/>
<circle cx="1216.0" cy="100.1" r="4.2" fill="#3fa53a" stroke="#2b852b" stroke-width="1"/>
<circle cx="1229.6" cy="92.5" r="4.2" fill="#3fa53a" stroke="#2b852b" stroke-width="1"/>
<circle cx="1243.0" cy="84.8" r="4.2" fill="#3fa53a" stroke="#2b852b" stroke-width="1"/>
<circle cx="1256.2" cy="77.2" r="4.2" fill="#3fa53a" stroke="#2b852b" stroke-width="1"/>
<circle cx="1269.4" cy="69.7" r="4.2" fill="#3fa53a" stroke="#2b852b" stroke-width="1"/>
<circle cx="1282.7" cy="62.3" r="4.2" fill="#3fa53a" stroke="#2b852b" stroke-width="1"/>
<circle cx="1295.9" cy="54.7" r="4.2" fill="#3fa53a" stroke="#2b852b" stroke-width="1"/>
<circle cx="1308.2" cy="61.7" r="4.2" fill="#3fa53a" stroke="#2b852b" stroke-width="1"/>
<circle cx="1321.2" cy="69.3" r="4.2" fill="#3fa53a" stroke="#2b852b" stroke-width="1"/>
<circle cx="1333.1" cy="77.4" r="4.2" fill="#3fa53a" stroke="#2b852b" stroke-width="1"/>
<circle cx="1347.6" cy="83.1" r="6.0" fill="#62c350" stroke="#227f22" stroke-width="2.2"/>
<circle cx="1346.8" cy="82.3" r="3.0" fill="#a2e68e"/>
<circle cx="1362.0" cy="88.7" r="4.2" fill="#3fa53a" stroke="#2b852b" stroke-width="1"/>
<circle cx="1376.2" cy="94.8" r="4.2" fill="#3fa53a" stroke="#2b852b" stroke-width="1"/>
<rect x="1394" y="75" width="63" height="73" rx="8" fill="#2c732c"/>
<rect x="1395.8" y="76.8" width="59.4" height="69.4" rx="6.5" fill="#c4eeb2"/>
<rect x="1398.2" y="79.2" width="54.6" height="64.6" rx="4.5" fill="#4aaa44"/>
<rect x="1405.8" y="88.9" width="38.100000000000136" height="20.099999999999994" fill="#fff"/>
<rect x="1406.8" y="116.3" width="10.400000000000091" height="4" rx="1" fill="#fff"/>
<rect x="1433.5" y="116.3" width="10.400000000000091" height="4" rx="1" fill="#fff"/>
<rect x="1406.8" y="125" width="10.400000000000091" height="4" rx="1" fill="#fff"/>
<rect x="1433.5" y="125" width="10.400000000000091" height="4" rx="1" fill="#fff"/>
<polygon points="1425.5,112.65 1429.5,112.65 1426.8,120.15 1429.8,120.15 1422.5,132.65 1424.4,124.15 1421.2,124.15" fill="#fff" stroke="#fff" stroke-width="0.5" stroke-linejoin="round"/>
<rect x="1386" y="157.5" width="80" height="18.0" rx="9.0" fill="#47a543" stroke="#2f8a2e" stroke-width="1"/>
<text x="1426.8" y="172.2" font-size="15.7" text-anchor="middle" fill="#fff" font-weight="900">双向电表</text>
<circle cx="1426.0" cy="187.6" r="4.2" fill="#3fa53a" stroke="#2b852b" stroke-width="1"/>
<circle cx="1426.0" cy="203.0" r="4.2" fill="#3fa53a" stroke="#2b852b" stroke-width="1"/>
<circle cx="1426.0" cy="218.8" r="4.2" fill="#3fa53a" stroke="#2b852b" stroke-width="1"/>
<circle cx="1426.0" cy="234.4" r="4.2" fill="#3fa53a" stroke="#2b852b" stroke-width="1"/>
<circle cx="1426.0" cy="249.5" r="4.2" fill="#3fa53a" stroke="#2b852b" stroke-width="1"/>
<circle cx="1426.0" cy="265.0" r="4.2" fill="#3fa53a" stroke="#2b852b" stroke-width="1"/>
<circle cx="1426.0" cy="280.0" r="4.2" fill="#3fa53a" stroke="#2b852b" stroke-width="1"/>
<circle cx="1425.5" cy="339" r="43.5" fill="#fbfcfa" stroke="#e3e8e1" stroke-width="1.2"/>
<path id="arcTop" d="M1387.5,341 A38,38 0 0 1 1463.5,341" fill="none"/>
<path id="arcBot" d="M1385,343 A40.5,40.5 0 0 0 1466,343" fill="none"/>
<text font-size="9.5" font-weight="900" fill="#86cc77" letter-spacing="3"><textPath href="#arcTop" startOffset="50%" text-anchor="middle">国家电网公司</textPath></text>
<text font-size="8" font-weight="900" fill="#8fd081" letter-spacing="0.9"><textPath href="#arcBot" startOffset="50%" text-anchor="middle">STATE GRID CORP</textPath></text>
<circle cx="1426.5" cy="338" r="31" fill="#4cab3e"/>
<path d="M1400,356 C1420,372 1458,362 1457,342" fill="none" stroke="#fff" stroke-width="3"/>
<path d="M1398,350 C1420,364 1452,356 1456,336" fill="none" stroke="#e9f6e4" stroke-width="1.6"/>
<path d="M1423,310 C1404,326 1400,356 1427,370" fill="none" stroke="#fff" stroke-width="3"/>
<path d="M1420,312 C1413,330 1413,356 1426,369" fill="none" stroke="#e9f6e4" stroke-width="1.8"/>
<rect x="1385" y="391.6" width="83" height="18.399999999999977" rx="9.199999999999989" fill="#47a543" stroke="#2f8a2e" stroke-width="1"/>
<text x="1427.3" y="406.5" font-size="15.7" text-anchor="middle" fill="#fff" font-weight="900">余电上网</text>
<circle cx="1102.0" cy="430.5" r="5.8" fill="#f6b060" stroke="#e57b10" stroke-width="2.6"/>
<ellipse cx="1100.8" cy="430.2" rx="2.4" ry="3.5" fill="#fde6c6"/>
<circle cx="1117.7" cy="437.6" r="4.1" fill="#f08c1c" stroke="#dc7410" stroke-width="0.9"/>
<circle cx="1132.0" cy="443.0" r="4.1" fill="#f08c1c" stroke="#dc7410" stroke-width="0.9"/>
<circle cx="1146.0" cy="449.0" r="4.1" fill="#f08c1c" stroke="#dc7410" stroke-width="0.9"/>
<circle cx="1160.0" cy="454.6" r="4.1" fill="#f08c1c" stroke="#dc7410" stroke-width="0.9"/>
<circle cx="1174.4" cy="460.0" r="4.1" fill="#f08c1c" stroke="#dc7410" stroke-width="0.9"/>
<circle cx="1188.6" cy="466.0" r="4.1" fill="#f08c1c" stroke="#dc7410" stroke-width="0.9"/>
<circle cx="1202.8" cy="471.6" r="4.1" fill="#f08c1c" stroke="#dc7410" stroke-width="0.9"/>
<circle cx="1217.0" cy="477.8" r="4.1" fill="#f08c1c" stroke="#dc7410" stroke-width="0.9"/>
<circle cx="1231.7" cy="483.8" r="4.1" fill="#f08c1c" stroke="#dc7410" stroke-width="0.9"/>
<circle cx="1322.0" cy="453.7" r="5.8" fill="#f6b060" stroke="#e57b10" stroke-width="2.6"/>
<ellipse cx="1320.8" cy="453.4" rx="2.4" ry="3.5" fill="#fde6c6"/>
<circle cx="1336.7" cy="441.8" r="4.1" fill="#f08c1c" stroke="#dc7410" stroke-width="0.9"/>
<circle cx="1348.9" cy="432.5" r="4.1" fill="#f08c1c" stroke="#dc7410" stroke-width="0.9"/>
<circle cx="1361.3" cy="423.0" r="4.1" fill="#f08c1c" stroke="#dc7410" stroke-width="0.9"/>
<circle cx="1373.5" cy="413.5" r="4.1" fill="#f08c1c" stroke="#dc7410" stroke-width="0.9"/>
<path d="M1265,441 C1272,439 1286,439 1293,441 C1292,447 1289,451 1288,454 L1269,454 C1268,451 1265,447 1265,441 Z" fill="#ef8a22"/>
<path d="M1269,456 C1255,465 1247,478 1247,492 C1247,510 1260,519 1279.5,519 C1299,519 1312,510 1312,492 C1312,478 1304,465 1289,456 Z" fill="#ef8a22"/>
<path d="M1266,453 L1290,453 M1265,456 L1289,455.5" stroke="#fbd9a8" stroke-width="1.2" fill="none"/>
<circle cx="1279.9" cy="489.5" r="20.3" fill="#fff"/>
<g transform="translate(1278.8,490)"><path d="M8.5,-8.5 C7,-13 -9,-13.5 -9,-5.5 C-9,1.5 8.5,-0.5 8.5,6.5 C8.5,14 -6,14.5 -9.5,8.5" fill="none" stroke="#ef8a22" stroke-width="6.2" stroke-linecap="round"/><line x1="0" y1="-16" x2="0" y2="-11" stroke="#ef8a22" stroke-width="4.5" stroke-linecap="round"/><line x1="0" y1="11" x2="0" y2="16" stroke="#ef8a22" stroke-width="4.5" stroke-linecap="round"/></g>
<rect x="1235" y="530" width="88" height="19" rx="9.5" fill="#ef8b20" stroke="#d9761a" stroke-width="1"/>
<text x="1279.8" y="545.2" font-size="15.7" text-anchor="middle" fill="#fff" font-weight="900">电价收入</text>
<rect x="906" y="44" width="87" height="18.5" rx="9.25" fill="#ef8b20" stroke="#d9761a" stroke-width="1"/>
<text x="950.3" y="58.9" font-size="15.7" text-anchor="middle" fill="#fff" font-weight="900">业主自用</text>
<rect x="834" y="530" width="87" height="19.5" rx="9.75" fill="#ef8b20" stroke="#d9761a" stroke-width="1"/>
<text x="878.3" y="545.4" font-size="15.7" text-anchor="middle" fill="#fff" font-weight="900">业主自用</text>
</svg></body></html>
